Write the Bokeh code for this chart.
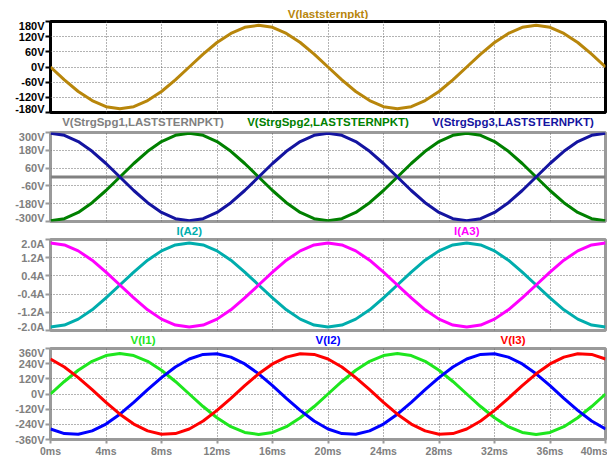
from bokeh.plotting import figure
from bokeh.models import Range1d, FixedTicker, PrintfTickFormatter, Grid, LinearAxis, ColumnDataSource
from bokeh.core.properties import value
from bokeh.layouts import column
from bokeh.embed import file_html
from bokeh.resources import INLINE

# ---------------- data ----------------
time_ms = [0, 1, 2, 3, 4, 5, 6, 7, 8, 9, 10, 11, 12, 13, 14, 15, 16, 17, 18, 19, 20,
           21, 22, 23, 24, 25, 26, 27, 28, 29, 30, 31, 32, 33, 34, 35, 36, 37, 38, 39, 40]

v_laststernpkt = [0, -51, -97, -133, -157, -165, -157, -133, -97, -51, 0, 51, 97, 133, 157, 165, 157, 133, 97, 51,
                  0, -51, -97, -133, -157, -165, -157, -133, -97, -51, 0, 51, 97, 133, 157, 165, 157, 133, 97, 51, 0]

v_strgspg1 = [0, 0, 0, 0, 0, 0, 0, 0, 0, 0, 0, 0, 0, 0, 0, 0, 0, 0, 0, 0,
              0, 0, 0, 0, 0, 0, 0, 0, 0, 0, 0, 0, 0, 0, 0, 0, 0, 0, 0, 0, 0]
v_strgspg2 = [-295, -281, -239, -173, -91, 0, 91, 173, 239, 281, 295, 281, 239, 173, 91, 0, -91, -173, -239, -281,
              -295, -281, -239, -173, -91, 0, 91, 173, 239, 281, 295, 281, 239, 173, 91, 0, -91, -173, -239, -281, -295]
v_strgspg3 = [295, 281, 239, 173, 91, 0, -91, -173, -239, -281, -295, -281, -239, -173, -91, 0, 91, 173, 239, 281,
              295, 281, 239, 173, 91, 0, -91, -173, -239, -281, -295, -281, -239, -173, -91, 0, 91, 173, 239, 281, 295]

i_a2 = [-1.85, -1.76, -1.50, -1.09, -0.57, 0, 0.57, 1.09, 1.50, 1.76, 1.85, 1.76, 1.50, 1.09, 0.57, 0, -0.57, -1.09, -1.50, -1.76,
        -1.85, -1.76, -1.50, -1.09, -0.57, 0, 0.57, 1.09, 1.50, 1.76, 1.85, 1.76, 1.50, 1.09, 0.57, 0, -0.57, -1.09, -1.50, -1.76, -1.85]
i_a3 = [1.85, 1.76, 1.50, 1.09, 0.57, 0, -0.57, -1.09, -1.50, -1.76, -1.85, -1.76, -1.50, -1.09, -0.57, 0, 0.57, 1.09, 1.50, 1.76,
        1.85, 1.76, 1.50, 1.09, 0.57, 0, -0.57, -1.09, -1.50, -1.76, -1.85, -1.76, -1.50, -1.09, -0.57, 0, 0.57, 1.09, 1.50, 1.76, 1.85]

v_i1 = [0, 99, 188, 259, 304, 320, 304, 259, 188, 99, 0, -99, -188, -259, -304, -320, -304, -259, -188, -99,
        0, 99, 188, 259, 304, 320, 304, 259, 188, 99, 0, -99, -188, -259, -304, -320, -304, -259, -188, -99, 0]
v_i2 = [-277, -313, -318, -292, -238, -160, -67, 34, 130, 214, 277, 313, 318, 292, 238, 160, 67, -34, -130, -214,
        -277, -313, -318, -292, -238, -160, -67, 34, 130, 214, 277, 313, 318, 292, 238, 160, 67, -34, -130, -214, -277]
v_i3 = [277, 214, 130, 34, -67, -160, -238, -292, -318, -313, -277, -214, -130, -34, 67, 160, 238, 292, 318, 313,
        277, 214, 130, 34, -67, -160, -238, -292, -318, -313, -277, -214, -130, -34, 67, 160, 238, 292, 318, 313, 277]

x_ticks = [0, 4, 8, 12, 16, 20, 24, 28, 32, 36, 40]
y_ticks_1 = [-180, -120, -60, 0, 60, 120, 180]
y_ticks_2 = [-300, -180, -60, 60, 180, 300]
y_ticks_3 = [-2.0, -1.2, -0.4, 0.4, 1.2, 2.0]
y_ticks_4 = [-360, -240, -120, 0, 120, 240, 360]

titles_1 = ["V(laststernpkt)"]
titles_2 = ["V(StrgSpg1,LASTSTERNPKT)", "V(StrgSpg2,LASTSTERNPKT)", "V(StrgSpg3,LASTSTERNPKT)"]
titles_3 = ["I(A2)", "I(A3)"]
titles_4 = ["V(I1)", "V(I2)", "V(I3)"]

# ---------------- styling ----------------
W = 607
LEFT = 50
RIGHT = 2
FONT = "Liberation Sans"
GRAY_TXT = "#808080"
GRAY_EDGE = "#9a9a9a"
GRID = "#666666"

GOLD = "#B8860B"
GREEN2 = "#008000"
NAVY = "#1414A0"
CYAN = "#00ADAD"
MAGENTA = "#FF00FF"
LIME = "#1EE61E"
BLUE = "#0000FF"
RED = "#FF0000"
LW = 3


def panel(height, top, bottom, yr, yticks, yfmt, ink, edge, xaxis=False):
    p = figure(width=W, height=height, x_range=Range1d(0, 40), y_range=Range1d(*yr),
               x_axis_location=None, y_axis_location=None, output_backend="svg",
               toolbar_location=None, tools="", min_border_left=LEFT, min_border_right=RIGHT,
               min_border_top=top, min_border_bottom=bottom)
    p.title = None
    p.center = [r for r in p.center if not isinstance(r, Grid)]
    p.background_fill_color = "white"
    p.border_fill_color = "white"
    p.outline_line_color = edge
    p.outline_line_width = 3

    ya = LinearAxis(ticker=FixedTicker(ticks=yticks), formatter=PrintfTickFormatter(format=yfmt))
    ya.axis_line_color = None
    ya.major_tick_out = 5
    ya.major_tick_in = 0
    ya.major_tick_line_color = edge
    ya.major_tick_line_width = 2
    ya.minor_tick_line_color = None
    ya.major_label_standoff = 1
    ya.major_label_text_font = FONT
    ya.major_label_text_font_style = "bold"
    ya.major_label_text_font_size = "11px"
    ya.major_label_text_color = ink
    p.add_layout(ya, "left")

    if xaxis:
        xa = LinearAxis(ticker=FixedTicker(ticks=x_ticks), formatter=PrintfTickFormatter(format="%dms"))
        xa.axis_line_color = None
        xa.major_tick_out = 4
        xa.major_tick_in = 0
        xa.major_tick_line_color = edge
        xa.major_tick_line_width = 2
        xa.minor_tick_line_color = None
        xa.major_label_standoff = 1
        xa.major_label_text_font = FONT
        xa.major_label_text_font_style = "bold"
        xa.major_label_text_font_size = "10.5px"
        xa.major_label_text_color = ink
        p.add_layout(xa, "below")

    for dim, tk in ((0, x_ticks), (1, yticks)):
        g = Grid(dimension=dim, ticker=FixedTicker(ticks=tk))
        g.grid_line_color = GRID
        g.grid_line_dash = "1 2"
        g.grid_line_width = 1
        p.add_layout(g, "center")
    return p


def strip(height, center_from_top, names, colors):
    s = figure(width=W, height=height, x_range=Range1d(0, 40), y_range=Range1d(0, 1),
               x_axis_location=None, y_axis_location=None, output_backend="svg",
               toolbar_location=None, tools="", min_border_left=LEFT, min_border_right=RIGHT,
               min_border_top=0, min_border_bottom=0)
    s.title = None
    s.center = [r for r in s.center if not isinstance(r, Grid)]
    s.outline_line_color = None
    s.background_fill_color = "white"
    s.border_fill_color = "white"
    n = len(names)
    ypos = 1.0 - center_from_top / height
    src = ColumnDataSource(dict(x=[40.0 * (2 * i + 1) / (2 * n) for i in range(n)],
                                y=[ypos] * n, t=names, c=colors))
    s.text(x="x", y="y", text="t", text_color="c", source=src,
           text_align="center", text_baseline="middle",
           text_font=value(FONT), text_font_style="bold", text_font_size="11.5px")
    return s


s1 = strip(19, 13, titles_1, [GOLD])
p1 = panel(95, 2, 2, (-180, 180), y_ticks_1, "%dV", "black", "black")
p1.line(time_ms, v_laststernpkt, line_width=LW, color=GOLD)

s2 = strip(16, 7, titles_2, [GRAY_TXT, GREEN2, NAVY])
p2 = panel(93, 2, 2, (-300, 300), y_ticks_2, "%dV", GRAY_TXT, GRAY_EDGE)
p2.line(time_ms, v_strgspg1, line_width=LW, color=GRAY_TXT)
p2.line(time_ms, v_strgspg2, line_width=LW, color=GREEN2)
p2.line(time_ms, v_strgspg3, line_width=LW, color=NAVY)

s3 = strip(14, 7.5, titles_3, [CYAN, MAGENTA])
p3 = panel(95, 2, 2, (-2.0, 2.0), y_ticks_3, "%.1fA", GRAY_TXT, GRAY_EDGE)
p3.line(time_ms, i_a2, line_width=LW, color=CYAN)
p3.line(time_ms, i_a3, line_width=LW, color=MAGENTA)

s4 = strip(14, 7.5, titles_4, [LIME, BLUE, RED])
p4 = panel(113, 2, 18, (-360, 360), y_ticks_4, "%dV", GRAY_TXT, GRAY_EDGE, xaxis=True)
p4.line(time_ms, v_i1, line_width=LW, color=LIME)
p4.line(time_ms, v_i2, line_width=LW, color=BLUE)
p4.line(time_ms, v_i3, line_width=LW, color=RED)

layout = column(s1, p1, s2, p2, s3, p3, s4, p4)
open("out.html", "w").write(file_html(layout, INLINE))
